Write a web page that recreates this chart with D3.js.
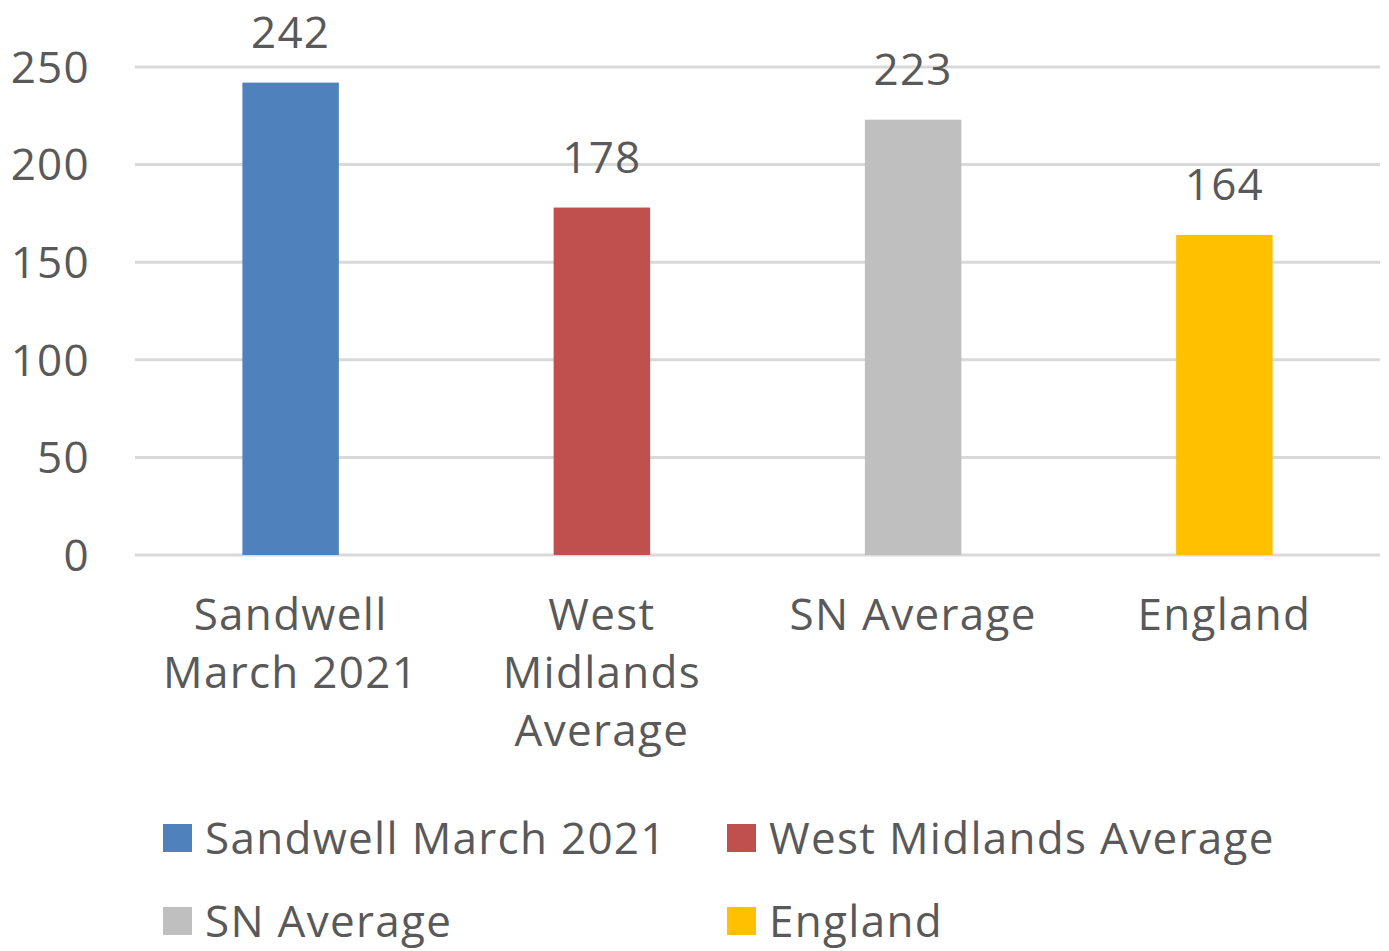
<!DOCTYPE html>
<html>
<head>
<meta charset="utf-8">
<script src="https://cdn.jsdelivr.net/npm/d3@7"></script>
<style>
  body { margin: 0; background: #fff; }
  text { font-family: "Open Sans", sans-serif; fill: #595959; letter-spacing: 1.3px; }
</style>
</head>
<body>
<div id="chart"></div>
<script>
// data
const categories = ["Sandwell March 2021", "West Midlands Average", "SN Average", "England"];
const axisLabels = [["Sandwell", "March 2021"], ["West", "Midlands", "Average"], ["SN Average"], ["England"]];
const values = [242, 178, 223, 164];
const colors = ["#4f81bd", "#c0504d", "#bfbfbf", "#ffc000"];
const yTicks = [0, 50, 100, 150, 200, 250];

const width = 1389, height = 951;
const fontSize = "44px";

const svg = d3.select("#chart").append("svg")
  .attr("width", width)
  .attr("height", height);

const x = d3.scaleBand()
  .domain(categories)
  .range([135, 1380])
  .paddingInner(0.69)
  .paddingOuter(0.345);

const y = d3.scaleLinear()
  .domain([0, 250])
  .range([555, 67]);

// GRIDLINES
svg.append("g")
  .selectAll("line")
  .data(yTicks)
  .join("line")
  .attr("x1", 135)
  .attr("x2", 1380)
  .attr("y1", d => y(d))
  .attr("y2", d => y(d))
  .attr("stroke", "#d9d9d9")
  .attr("stroke-width", 3);

// Y AXIS LABELS
svg.append("g")
  .selectAll("text")
  .data(yTicks)
  .join("text")
  .attr("x", 90)
  .attr("y", d => y(d))
  .attr("dy", "0.36em")
  .attr("text-anchor", "end")
  .style("font-size", fontSize)
  .text(d => d);

// BARS
svg.append("g")
  .selectAll("rect")
  .data(values)
  .join("rect")
  .attr("x", (d, i) => x(categories[i]))
  .attr("width", x.bandwidth())
  .attr("y", d => y(d))
  .attr("height", d => y(0) - y(d))
  .attr("fill", (d, i) => colors[i]);

// VALUE LABELS
svg.append("g")
  .selectAll("text")
  .data(values)
  .join("text")
  .attr("x", (d, i) => x(categories[i]) + x.bandwidth() / 2)
  .attr("y", d => y(d) - 35)
  .attr("text-anchor", "middle")
  .style("font-size", fontSize)
  .text(d => d);

// CATEGORY LABELS
const catG = svg.append("g")
  .selectAll("text")
  .data(axisLabels)
  .join("text")
  .attr("x", (d, i) => x(categories[i]) + x.bandwidth() / 2)
  .attr("y", 630)
  .attr("text-anchor", "middle")
  .style("font-size", fontSize);

catG.selectAll("tspan")
  .data((d, i) => d.map(t => ({t: t, cx: x(categories[i]) + x.bandwidth() / 2})))
  .join("tspan")
  .attr("x", d => d.cx)
  .attr("dy", (d, j) => j == 0 ? 0 : 58)
  .text(d => d.t);

// LEGEND
// second row sits a little higher than the reference so its descenders stay on the page
const legendPos = [[163, 838], [727, 838], [163, 921], [727, 921]];

const legend = svg.append("g")
  .selectAll("g")
  .data(categories)
  .join("g")
  .attr("transform", (d, i) => `translate(${legendPos[i][0]},${legendPos[i][1]})`);

legend.append("rect")
  .attr("x", 0)
  .attr("y", -14)
  .attr("width", 29)
  .attr("height", 28)
  .attr("fill", (d, i) => colors[i]);

legend.append("text")
  .attr("x", 42)
  .attr("y", 0)
  .attr("dy", "0.36em")
  .style("font-size", fontSize)
  .text(d => d);
</script>
</body>
</html>
